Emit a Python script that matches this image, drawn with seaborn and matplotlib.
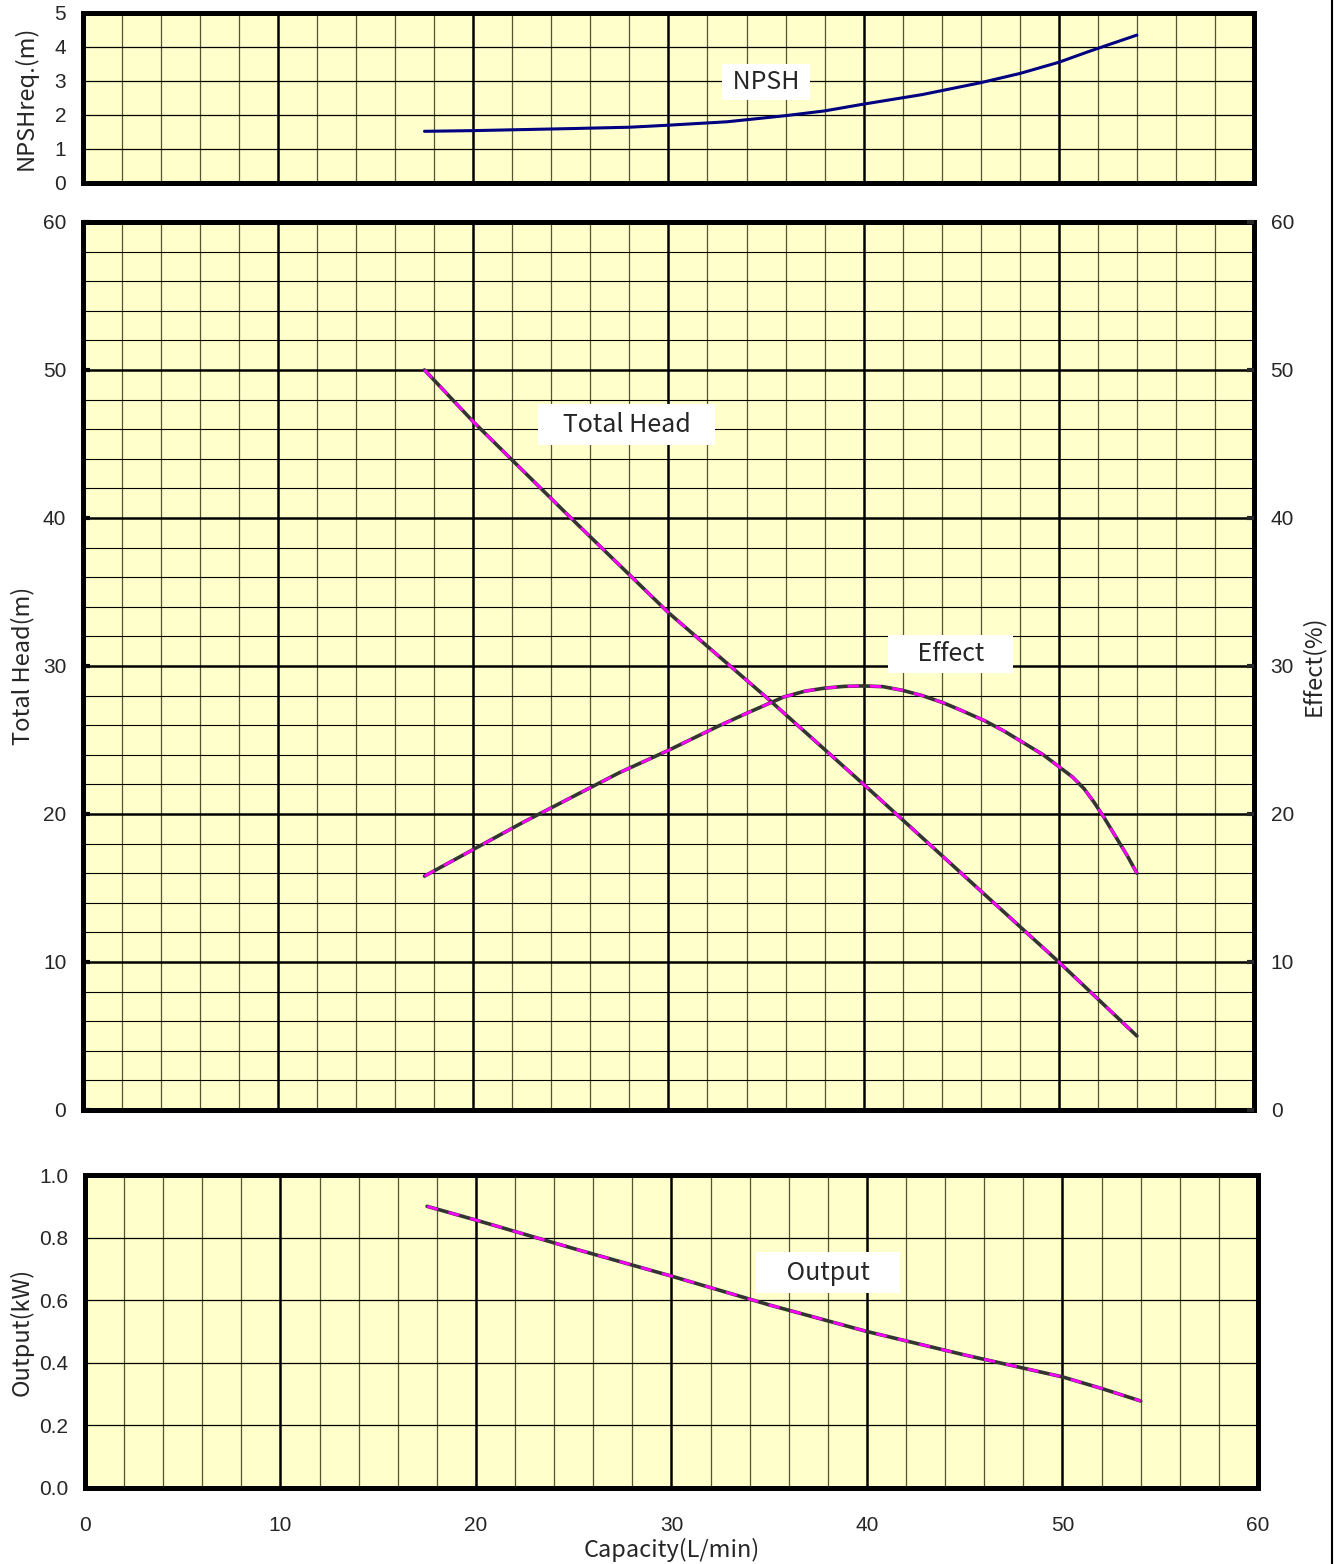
import matplotlib
matplotlib.use("Agg")
import matplotlib.pyplot as plt
import seaborn as sns
import numpy as np
import pandas as pd
from matplotlib.lines import Line2D

# Pump curve data
npsh_q = [17.5, 20, 25, 28, 30, 33, 36, 38, 40, 43, 46, 48, 50, 51.6, 54]
npsh_m = [1.52, 1.54, 1.6, 1.64, 1.7, 1.8, 1.98, 2.12, 2.32, 2.6, 2.95, 3.22, 3.55, 3.88, 4.35]

head_q = [17.5, 20, 25, 30, 35, 40, 45, 50, 54]
head_m = [50.0, 46.5, 40.0, 33.6, 27.9, 22.0, 16.0, 10.0, 5.0]

eff_q = [17.5, 20, 22.5, 25, 27.5, 30, 32.5, 34, 35.9, 37, 38, 39, 40, 41, 42, 43, 44.1,
         45, 46.2, 47.2, 48.2, 49.2, 50, 50.7, 51.3, 51.8, 52.3, 52.9, 53.5, 54]
eff_pct = [15.8, 17.6, 19.4, 21.1, 22.8, 24.3, 25.9, 26.8, 27.9, 28.3, 28.5, 28.62, 28.65,
           28.6, 28.35, 28.0, 27.5, 27.0, 26.3, 25.6, 24.8, 24.0, 23.2, 22.5, 21.7, 20.8,
           19.8, 18.5, 17.2, 16.0]

out_q = [17.5, 20, 25, 30, 35, 40, 45, 50, 52, 54]
out_kw = [0.90, 0.856, 0.765, 0.677, 0.585, 0.50, 0.425, 0.355, 0.318, 0.278]

x_ticks = [0, 10, 20, 30, 40, 50, 60]

npsh_df = pd.DataFrame({"q": npsh_q, "v": npsh_m})
head_df = pd.DataFrame({"q": head_q, "v": head_m})
eff_df = pd.DataFrame({"q": eff_q, "v": eff_pct})
out_df = pd.DataFrame({"q": out_q, "v": out_kw})

sns.set_style("white", {"axes.facecolor": "#FFFFCC"})
jp = ["Noto Sans CJK JP", "DejaVu Sans"]
plt.rcParams["font.family"] = ["Liberation Sans", "DejaVu Sans"]

fig = plt.figure(figsize=(13.4, 15.64), dpi=100)
ax_top = fig.add_axes([0.0619, 0.8830, 0.8739, 0.1087])
ax_mid = fig.add_axes([0.0619, 0.2903, 0.8739, 0.5678])
ax_bot = fig.add_axes([0.0634, 0.0486, 0.8754, 0.2001])

LAB = 17
BOX = 18


def style_grid(ax, ymajor, yminor):
    ax.set_xlim(0, 60)
    ax.set_xticks(x_ticks)
    ax.set_xticks(np.arange(0, 61, 2), minor=True)
    ax.set_yticks(ymajor)
    if yminor is not None:
        ax.set_yticks(yminor, minor=True)
    ax.grid(which="major", axis="x", color="black", lw=1.8)
    ax.grid(which="minor", axis="x", color="#555533", lw=0.9)
    ax.grid(which="major", axis="y", color="black", lw=1.8 if yminor is not None else 0.9)
    ax.grid(which="minor", axis="y", color="black", lw=0.8)
    ax.set_axisbelow(True)
    for s in ax.spines.values():
        s.set_visible(True)
        s.set_color("black")
        s.set_linewidth(3.6)
    ax.tick_params(which="major", direction="in", length=5, width=3, color="black",
                   labelsize=15, pad=12)
    ax.tick_params(which="minor", length=0)


def curve(ax, df):
    sns.lineplot(data=df, x="q", y="v", ax=ax, color="#333333", lw=2.6, zorder=3)
    sns.lineplot(data=df, x="q", y="v", ax=ax, color="#FF00FF", lw=2.0,
                 linestyle=(0, (4, 4)), zorder=4)


def box_label(ax, x, y, text, pad):
    ax.text(x, y, text, ha="center", va="center", fontsize=BOX, family=jp, zorder=6,
            bbox=dict(boxstyle=f"square,pad={pad}", fc="white", ec="none"))


# NPSH panel
sns.lineplot(data=npsh_df, x="q", y="v", ax=ax_top, color="#000080", lw=2.2, zorder=3)
ax_top.set_ylim(0, 5)
style_grid(ax_top, [0, 1, 2, 3, 4, 5], None)
ax_top.tick_params(axis="x", labelbottom=False)
ax_top.set_xlabel("")
ax_top.set_ylabel("NPSHreq.(m)", fontsize=LAB, family=jp, labelpad=12)
box_label(ax_top, 35.0, 2.98, " NPSH ", 0.2)

# Head / efficiency panel
curve(ax_mid, head_df)
ax_mid.set_ylim(0, 60)
style_grid(ax_mid, np.arange(0, 61, 10), np.arange(0, 61, 2))
ax_mid.tick_params(axis="x", labelbottom=False)
ax_mid.set_xlabel("")
ax_mid.set_ylabel("Total Head(m)", fontsize=LAB, family=jp, labelpad=6)

ax_eff = ax_mid.twinx()
curve(ax_eff, eff_df)
ax_eff.set_ylim(0, 60)
ax_eff.set_yticks(np.arange(0, 61, 10))
ax_eff.grid(False)
for s in ax_eff.spines.values():
    s.set_visible(False)
ax_eff.tick_params(axis="y", direction="in", length=5, width=3, labelsize=15, pad=12)
ax_eff.set_xlabel("")
ax_eff.set_ylabel("Effect(%)", fontsize=LAB, family=jp, labelpad=5)

box_label(ax_mid, 27.85, 46.3, "   Total Head   ", 0.3)
box_label(ax_eff, 44.45, 30.8, "    Effect    ", 0.25)

# Output panel
curve(ax_bot, out_df)
ax_bot.set_ylim(0, 1.0)
style_grid(ax_bot, np.round(np.arange(0, 1.01, 0.2), 1), None)
ax_bot.set_yticklabels([f"{v:.1f}" for v in np.arange(0, 1.01, 0.2)])
ax_bot.tick_params(axis="x", direction="in", pad=20)
ax_bot.set_xlabel("Capacity(L/min)", fontsize=LAB, family=jp, labelpad=2)
ax_bot.set_ylabel("Output(kW)", fontsize=LAB, family=jp, labelpad=4)
box_label(ax_bot, 38.0, 0.687, "    Output    ", 0.3)

# page border on the right
fig.add_artist(Line2D([1332 / 1340, 1332 / 1340], [0, 1], transform=fig.transFigure,
                      color="black", lw=1.5))

fig.savefig("out.png", dpi=100)
